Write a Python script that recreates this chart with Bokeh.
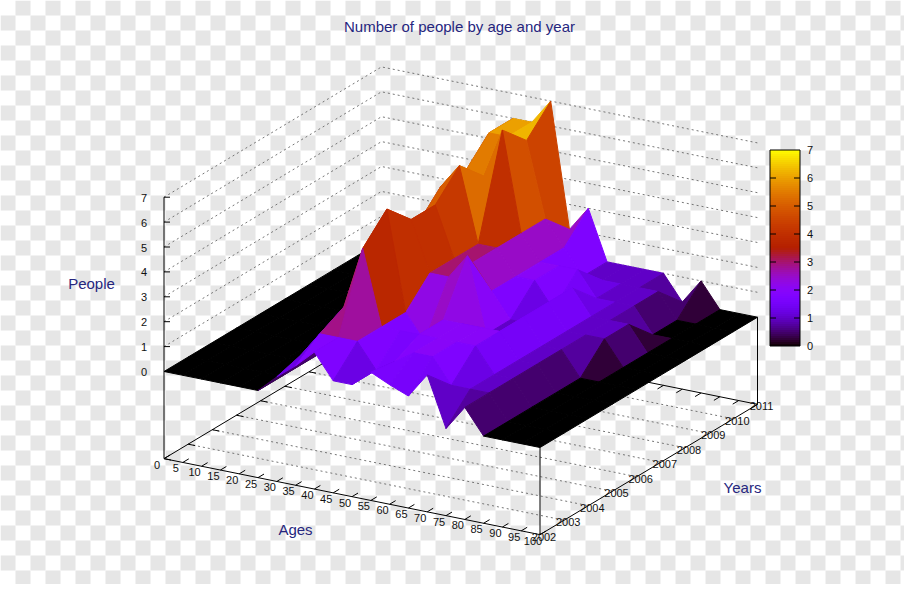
from bokeh.plotting import figure
from bokeh.models import Range1d
from bokeh.core.properties import value
from bokeh.embed import file_html
from bokeh.resources import INLINE
import math

title_text = "Number of people by age and year"
ages = list(range(0, 105, 5))
years = list(range(2002, 2012))
z_ticks = list(range(0, 8))

people_2002 = [0,0,0,0,0,0,.7,1.3,2,1,1,1.65,1.3,1,2,0,1,0,0,0,0]
people_2003 = [0,0,0,0,0,0,1,2,2,2,1,1.5,2,2,1,1,1,0,0,0,0]
people_2004 = [0,0,0,0,0,0,1,2.5,5,2,2,2,2,2,2,1,1,0,0,0,0]
people_2005 = [0,0,0,0,0,0,1,3,6,2,1,2,2,2,2,1,1,0,0,0,0]
people_2006 = [0,0,0,0,0,0,2,3,5,3,3,4,1,1,2,1,1,0,0,0,0]
people_2007 = [0,0,0,0,0,1,2,4,5,3,3,2,1,1,2,1,1,1,0,0,0]
people_2008 = [0,0,0,0,1,1,2,5,6,3,3,2,2,1,2,1,1,1,0,0,0]
people_2009 = [0,0,0,1,1,1,2,5,5,7,3,2,2,2,1,1,1,0,0,0,0]
people_2010 = [0,0,0,1,1,1,2,6,6,6,3,2,1,1,1,1,1,0,0,0,0]
people_2011 = [0,0,0,0,1,1,2,6,6,7,2,3,1,1,1,1,0,1,0,0,0]
people = [people_2002, people_2003, people_2004, people_2005, people_2006,
          people_2007, people_2008, people_2009, people_2010, people_2011]

Z_FLOOR = -3.5

def proj(age, year, z):
    a = age / 100.0
    k = (year - 2002) / 9.0
    return (163.5 + 376.0 * a + 217.5 * k,
            371.0 + 76.0 * a - 130.3 * k - 24.9 * z)

def palette(z):
    g = max(0.0, min(1.0, z / 7.0))
    r = math.sqrt(g)
    gg = g ** 3
    b = max(0.0, math.sin(2 * math.pi * g))
    return "#%02x%02x%02x" % (int(r * 255), int(gg * 255), int(b * 255))

p = figure(width=904, height=584, x_range=Range1d(0, 904), y_range=Range1d(584, 0),
           x_axis_type=None, y_axis_type=None, toolbar_location=None,
           output_backend="svg", min_border=0, outline_line_color=None)
p.grid.visible = False

# checkered backdrop of the picture
l, r_, t, b_ = [], [], [], []
for c in range(0, 62):
    for w in range(0, 41):
        if (c + w) % 2 == 1:
            l.append(c * 15); r_.append(c * 15 + 15); t.append(w * 15); b_.append(w * 15 + 15)
p.quad(left=l, right=r_, top=t, bottom=b_, fill_color="#e6e6e6", line_color=None)

def seg(pts, **kw):
    p.line([q[0] for q in pts], [q[1] for q in pts], **kw)

DASH = dict(line_color="#666666", line_width=0.9, line_dash="2 3")
for z in z_ticks[1:]:
    seg([proj(0, 2002, z), proj(0, 2011, z), proj(100, 2011, z)], **DASH)
for y in years[1:-1]:
    seg([proj(0, y, Z_FLOOR), proj(100, y, Z_FLOOR)], **DASH)

AX = dict(line_color="#000000", line_width=1)
seg([proj(0, 2002, 7), proj(0, 2002, Z_FLOOR), proj(100, 2002, Z_FLOOR), proj(100, 2011, Z_FLOOR), proj(0, 2011, Z_FLOOR), proj(0, 2002, Z_FLOOR)], **AX)
seg([proj(100, 2002, 0), proj(100, 2002, Z_FLOOR)], **AX)
seg([proj(100, 2011, 0), proj(100, 2011, Z_FLOOR)], **AX)
for a in ages:
    x0, y0 = proj(a, 2002, Z_FLOOR)
    seg([(x0, y0), (x0 + 6, y0 - 3.6)], **AX)
    x1, y1 = proj(a, 2011, Z_FLOOR)
    seg([(x1, y1), (x1 - 6, y1 + 3.6)], **AX)
for y in years:
    x0, y0 = proj(0, y, Z_FLOOR)
    seg([(x0, y0), (x0 + 7, y0 + 1.4)], **AX)
for z in z_ticks:
    x0, y0 = proj(0, 2002, z)
    seg([(x0, y0), (x0 + 6, y0)], **AX)

# surface, painted from far to near
xs, ys, cols = [], [], []
for k in range(len(years) - 1, 0, -1):
    for i in range(len(ages) - 1):
        corners = [(i, k), (i + 1, k), (i + 1, k - 1), (i, k - 1)]
        pts = [proj(ages[c], years[d], people[d][c]) for c, d in corners]
        xs.append([q[0] for q in pts])
        ys.append([q[1] for q in pts])
        cols.append(palette(sum(people[d][c] for c, d in corners) / 4.0))
p.patches(xs, ys, fill_color=cols, line_color=cols, line_width=1)

# colour box
BX0, BX1, BY0, BY7 = 769.5, 799.5, 345.5, 149.5
def by(z):
    return BY0 + (BY7 - BY0) * z / 7.0
lv = [i * 7 / 98.0 for i in range(98)]
p.quad(left=BX0, right=BX1, bottom=[by(v) for v in lv], top=[by(v + 7 / 98.0) for v in lv],
       fill_color=[palette(v + 7 / 196.0) for v in lv], line_color=None)
p.quad(left=[BX0], right=[BX1], bottom=[BY0], top=[BY7], fill_color=None, line_color="#000000", line_width=1)
for z in z_ticks[1:-1]:
    seg([(BX0, by(z)), (BX0 + 6, by(z))], **AX)
    seg([(BX1, by(z)), (BX1 - 6, by(z))], **AX)

FONT = value("Liberation Sans")
TICK = dict(text_font=FONT, text_font_size="11px", text_color="#111111", text_baseline="middle")

p.text([proj(0, 2002, z)[0] - 20 for z in z_ticks], [proj(0, 2002, z)[1] + 0.5 for z in z_ticks],
       text=[str(z) for z in z_ticks], text_align="center", **TICK)
p.text([proj(a, 2002, Z_FLOOR)[0] - 7 for a in ages], [proj(a, 2002, Z_FLOOR)[1] + 6 for a in ages],
       text=[str(a) for a in ages], text_align="center", **TICK)
p.text([proj(100, y, Z_FLOOR)[0] + 4 for y in years], [proj(100, y, Z_FLOOR)[1] + 2 for y in years],
       text=[str(y) for y in years], text_align="center", **TICK)
p.text([809.5] * 8, [by(z) for z in z_ticks], text=[str(z) for z in z_ticks], text_align="center", **TICK)

LAB = dict(text_font=FONT, text_font_size="15px", text_color="#26267e", text_align="center", text_baseline="middle")
p.text([459], [26], text=[title_text], **LAB)
p.text([91], [283], text=["People"], **LAB)
p.text([295], [529], text=["Ages"], **LAB)
p.text([742], [487], text=["Years"], **LAB)

open("out.html", "w").write(file_html(p, INLINE))
